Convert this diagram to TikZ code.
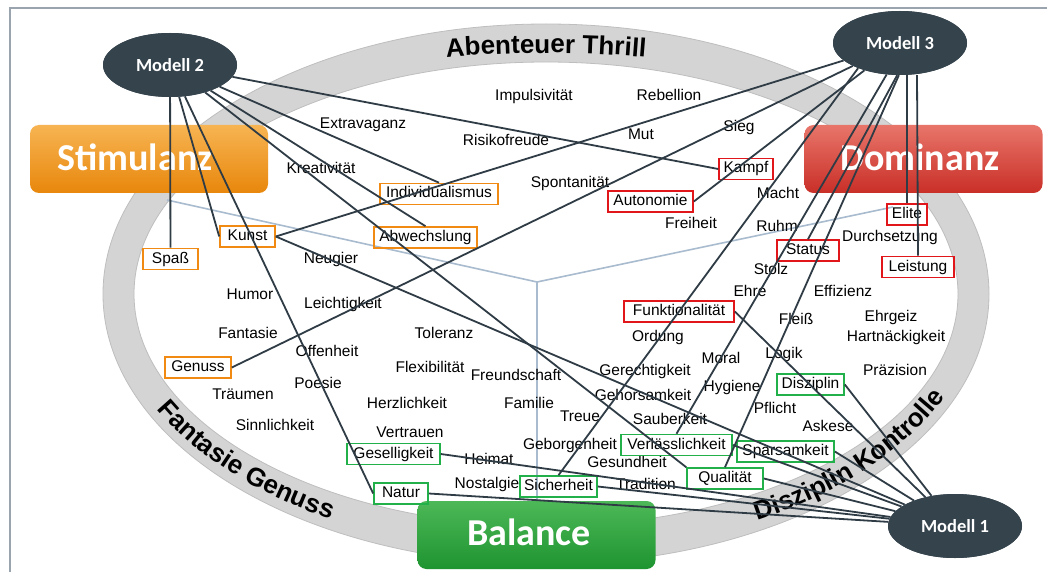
\documentclass[tikz,border=0pt]{standalone}
\usepackage{fontspec}
\setmainfont{Liberation Sans}
\newfontfamily\carlito{Carlito}
\usetikzlibrary{shapes.geometric,decorations.text,calc}
\definecolor{linec}{HTML}{2F3C46}
\definecolor{modelc}{HTML}{35434D}
\definecolor{ringfill}{HTML}{D4D4D4}
\definecolor{ringedge}{HTML}{BEBEBE}
\definecolor{axisc}{HTML}{A9BCCF}
\definecolor{framec}{HTML}{9AA4AE}
\definecolor{orbox}{HTML}{F08A12}
\definecolor{redbox}{HTML}{E0161B}
\definecolor{grbox}{HTML}{22B04A}
\definecolor{stimtop}{HTML}{F7B452}
\definecolor{stimbot}{HTML}{E8870C}
\definecolor{domitop}{HTML}{E8756A}
\definecolor{domibot}{HTML}{C92F27}
\definecolor{balatop}{HTML}{4DB857}
\definecolor{balabot}{HTML}{1E9430}
\newcommand\wordfont{\fontsize{15.5}{18}\selectfont}
\newcommand\ringfont{\fontsize{26}{30}\selectfont\bfseries}
\begin{document}
\begin{tikzpicture}[x=1pt,y=-1pt,
  word/.style={font=\wordfont, inner sep=0pt, text height=11pt, text depth=3pt},
  wbox/.style={word, draw=#1, line width=1.6pt, minimum height=21pt},
  obox/.style={wbox=orbox, minimum width=#1},
  rbox/.style={wbox=redbox, minimum width=#1},
  gbox/.style={wbox=grbox, minimum width=#1},
  model/.style={ellipse, fill=modelc, minimum width=134pt, minimum height=64pt,
    inner sep=0pt, text=white, font=\carlito\bfseries\fontsize{18.5}{20}\selectfont},
  cat/.style={rounded corners=9pt, minimum width=238pt, minimum height=68pt, inner sep=0pt},
  catlabel/.style={text=white, inner sep=0pt, font=\carlito\bfseries\fontsize{38}{40}\selectfont},
  conn/.style={draw=linec, line width=1.8pt},
  ]
\useasboundingbox (0,0) rectangle (1047,572);
\clip (0,0) rectangle (1047,572);
\fill[white] (0,0) rectangle (1047,572);

% thin frame
\draw[framec, line width=1.2pt] (10,590) -- (10,8) -- (1070,8);

% grey ring
\coordinate (ringc) at (546,294);
\fill[ringfill, even odd rule]
  (ringc) ellipse [x radius=443pt, y radius=270pt]
  (ringc) ellipse [x radius=412pt, y radius=232pt];
\draw[ringedge, line width=0.8pt] (ringc) ellipse [x radius=443pt, y radius=270pt];
\draw[ringedge, line width=0.8pt] (ringc) ellipse [x radius=412pt, y radius=232pt];

% ring captions
\path[decorate, decoration={text along path, text align=center,
    text={|\ringfont|Abenteuer Thrill}}]
  (ringc) ++(110:540pt and 241pt) arc[start angle=110, end angle=70, x radius=540pt, y radius=241pt];
\path[decorate, decoration={text along path, text align=center,
    text={|\ringfont|Fantasie Genuss}}]
  (ringc) ++(191:435pt and 259pt) arc[start angle=191, end angle=251, x radius=435pt, y radius=259pt];
\path[decorate, decoration={text along path, text align=center,
    text={|\ringfont|Disziplin Kontrolle}}]
  (ringc) ++(290:435pt and 259pt) arc[start angle=290, end angle=350, x radius=435pt, y radius=259pt];

% the three axes
\coordinate (hub) at (537,282);
\coordinate (axl) at (167,200);
\coordinate (axr) at (893,207);
\coordinate (axd) at (537,510);
\draw[axisc, line width=1.6pt] (axl) -- (hub) -- (axr);
\draw[axisc, line width=1.6pt] (hub) -- (axd);

% category boxes
\node[cat, top color=stimtop, bottom color=stimbot] (stim) at (149,159) {};
\node[catlabel] (stimlbl) at (135,157) {Stimulanz};
\node[cat, top color=domitop, bottom color=domibot] (domi) at (923.5,159) {};
\node[catlabel] (domilbl) at (920,157) {Dominanz};
\node[cat, top color=balatop, bottom color=balabot] (bala) at (536.5,535) {};
\node[catlabel] (balalbl) at (529,532) {Balance};

% plain words
\node[word] (impuls) at (534,97) {Impulsivität};
\node[word] (rebell) at (669,97) {Rebellion};
\node[word] (extrav) at (363,125) {Extravaganz};
\node[word] (risiko) at (506,142) {Risikofreude};
\node[word] (mut) at (641,136) {Mut};
\node[word] (sieg) at (739,128) {Sieg};
\node[word] (kreat) at (321,170) {Kreativität};
\node[word] (spont) at (570,184) {Spontanität};
\node[word] (macht) at (778,195) {Macht};
\node[word] (freih) at (691,225) {Freiheit};
\node[word] (ruhm) at (777,228) {Ruhm};
\node[word] (durch) at (890,237) {Durchsetzung};
\node[word] (neug) at (331,259) {Neugier};
\node[word] (stolz) at (771,271) {Stolz};
\node[word] (humor) at (250,295) {Humor};
\node[word] (leicht) at (343,304) {Leichtigkeit};
\node[word] (ehre) at (750,292) {Ehre};
\node[word] (effiz) at (843,292) {Effizienz};
\node[word] (ehrg) at (891,317) {Ehrgeiz};
\node[word] (fleiss) at (796,320) {Fleiß};
\node[word] (fantas) at (248,334) {Fantasie};
\node[word] (toler) at (444,334) {Toleranz};
\node[word] (ordung) at (658,337) {Ordung};
\node[word] (hartn) at (896,337) {Hartnäckigkeit};
\node[word] (offen) at (327,352) {Offenheit};
\node[word] (logik) at (784,354) {Logik};
\node[word] (moral) at (721,359) {Moral};
\node[word] (flex) at (430,368) {Flexibilität};
\node[word] (gerecht) at (645,371) {Gerechtigkeit};
\node[word] (praez) at (895,371) {Präzision};
\node[word] (freund) at (516,376) {Freundschaft};
\node[word] (poesie) at (318,384) {Poesie};
\node[word] (hyg) at (732,387) {Hygiene};
\node[word] (traeum) at (243,395) {Träumen};
\node[word] (gehor) at (643,396) {Gehorsamkeit};
\node[word] (herz) at (407,404) {Herzlichkeit};
\node[word] (famil) at (529,404) {Familie};
\node[word] (pflicht) at (775,409) {Pflicht};
\node[word] (treue) at (580,417) {Treue};
\node[word] (sauber) at (670,420) {Sauberkeit};
\node[word] (sinnl) at (275,426) {Sinnlichkeit};
\node[word] (askese) at (828,427) {Askese};
\node[word] (vertr) at (410,433) {Vertrauen};
\node[word] (geborg) at (570,445) {Geborgenheit};
\node[word] (heimat) at (489,460) {Heimat};
\node[word] (gesund) at (627,463) {Gesundheit};
\node[word] (nostal) at (487,484) {Nostalgie};
\node[word] (trad) at (646,485) {Tradition};

% framed words
\node[obox=118pt] (indiv) at (439,194) {Individualismus};
\node[obox=103pt] (abw) at (425.5,237.5) {Abwechslung};
\node[obox=55pt] (kunst) at (247.5,236.5) {Kunst};
\node[obox=55pt] (spass) at (170.5,259) {Spaß};
\node[obox=66pt] (genuss) at (198,367.5) {Genuss};
\node[rbox=54pt] (kampf) at (746,169) {Kampf};
\node[rbox=85pt] (auto) at (650.5,201.5) {Autonomie};
\node[rbox=40pt] (elite) at (907,214.5) {Elite};
\node[rbox=62pt] (status) at (808,250.5) {Status};
\node[rbox=72pt] (leist) at (918,267) {Leistung};
\node[rbox=110pt] (funkt) at (679,311.5) {Funktionalität};
\node[gbox=67pt] (diszi) at (810.5,384.5) {Disziplin};
\node[gbox=111pt] (verl) at (676.5,445) {Verlässlichkeit};
\node[gbox=97pt] (spar) at (785.5,451.5) {Sparsamkeit};
\node[gbox=76pt] (quali) at (725,478.5) {Qualität};
\node[gbox=77pt] (sicher) at (558.5,486.5) {Sicherheit};
\node[gbox=93pt] (gesell) at (393.5,454) {Geselligkeit};
\node[gbox=54pt] (natur) at (401,493.5) {Natur};

% model nodes (placed first for connector geometry, redrawn on top below)
\path (170,65) node[model] (m2) {Modell 2};
\path (900,43) node[model] (m3) {Modell 3};
\path (955,526) node[model] (m1) {Modell 1};

% connectors of Modell 2
\draw[conn] (m2) -- (spass);
\draw[conn] (m2) -- (kunst.west);
\draw[conn] (m2) -- (natur.west);
\draw[conn] (m2) -- (kampf.west);
\draw[conn] (m2) -- (indiv.north);
\draw[conn] (m2) -- (abw.north);
\draw[conn] (m2) -- (quali.north west);

% connectors of Modell 3
\draw[conn] (m3) -- (kunst.east);
\draw[conn] (m3) -- (genuss.east);
\draw[conn] (m3) -- (auto.east);
\draw[conn] (m3.265) -- (status.north);
\draw[conn] (elite.north |- m3.south) -- (elite.north);
\draw[conn] ([xshift=10pt]elite.north |- m3.south) -- (leist.north);
\draw[conn] (m3.211) -- (sicher.north);
\draw[conn] (m3.247) -- (verl.north);
\draw[conn] (m3.268) -- (quali.north);

% connectors of Modell 1
\draw[conn] (diszi.east) -- (m1);
\draw[conn] (funkt.east) -- (m1);
\draw[conn] (spar.east) -- (m1);
\draw[conn] (quali.east) -- (m1);
\draw[conn] (verl.east) -- (m1);
\draw[conn] (kunst.east) -- (m1);
\draw[conn] (sicher.east) -- (m1);
\draw[conn] (gesell.east) -- (m1);
\draw[conn] (natur.east) -- (m1);

% model nodes on top of their connectors
\node[model] at (m2) {Modell 2};
\node[model] at (m3) {Modell 3};
\node[model] at (m1) {Modell 1};
\end{tikzpicture}
\end{document}
